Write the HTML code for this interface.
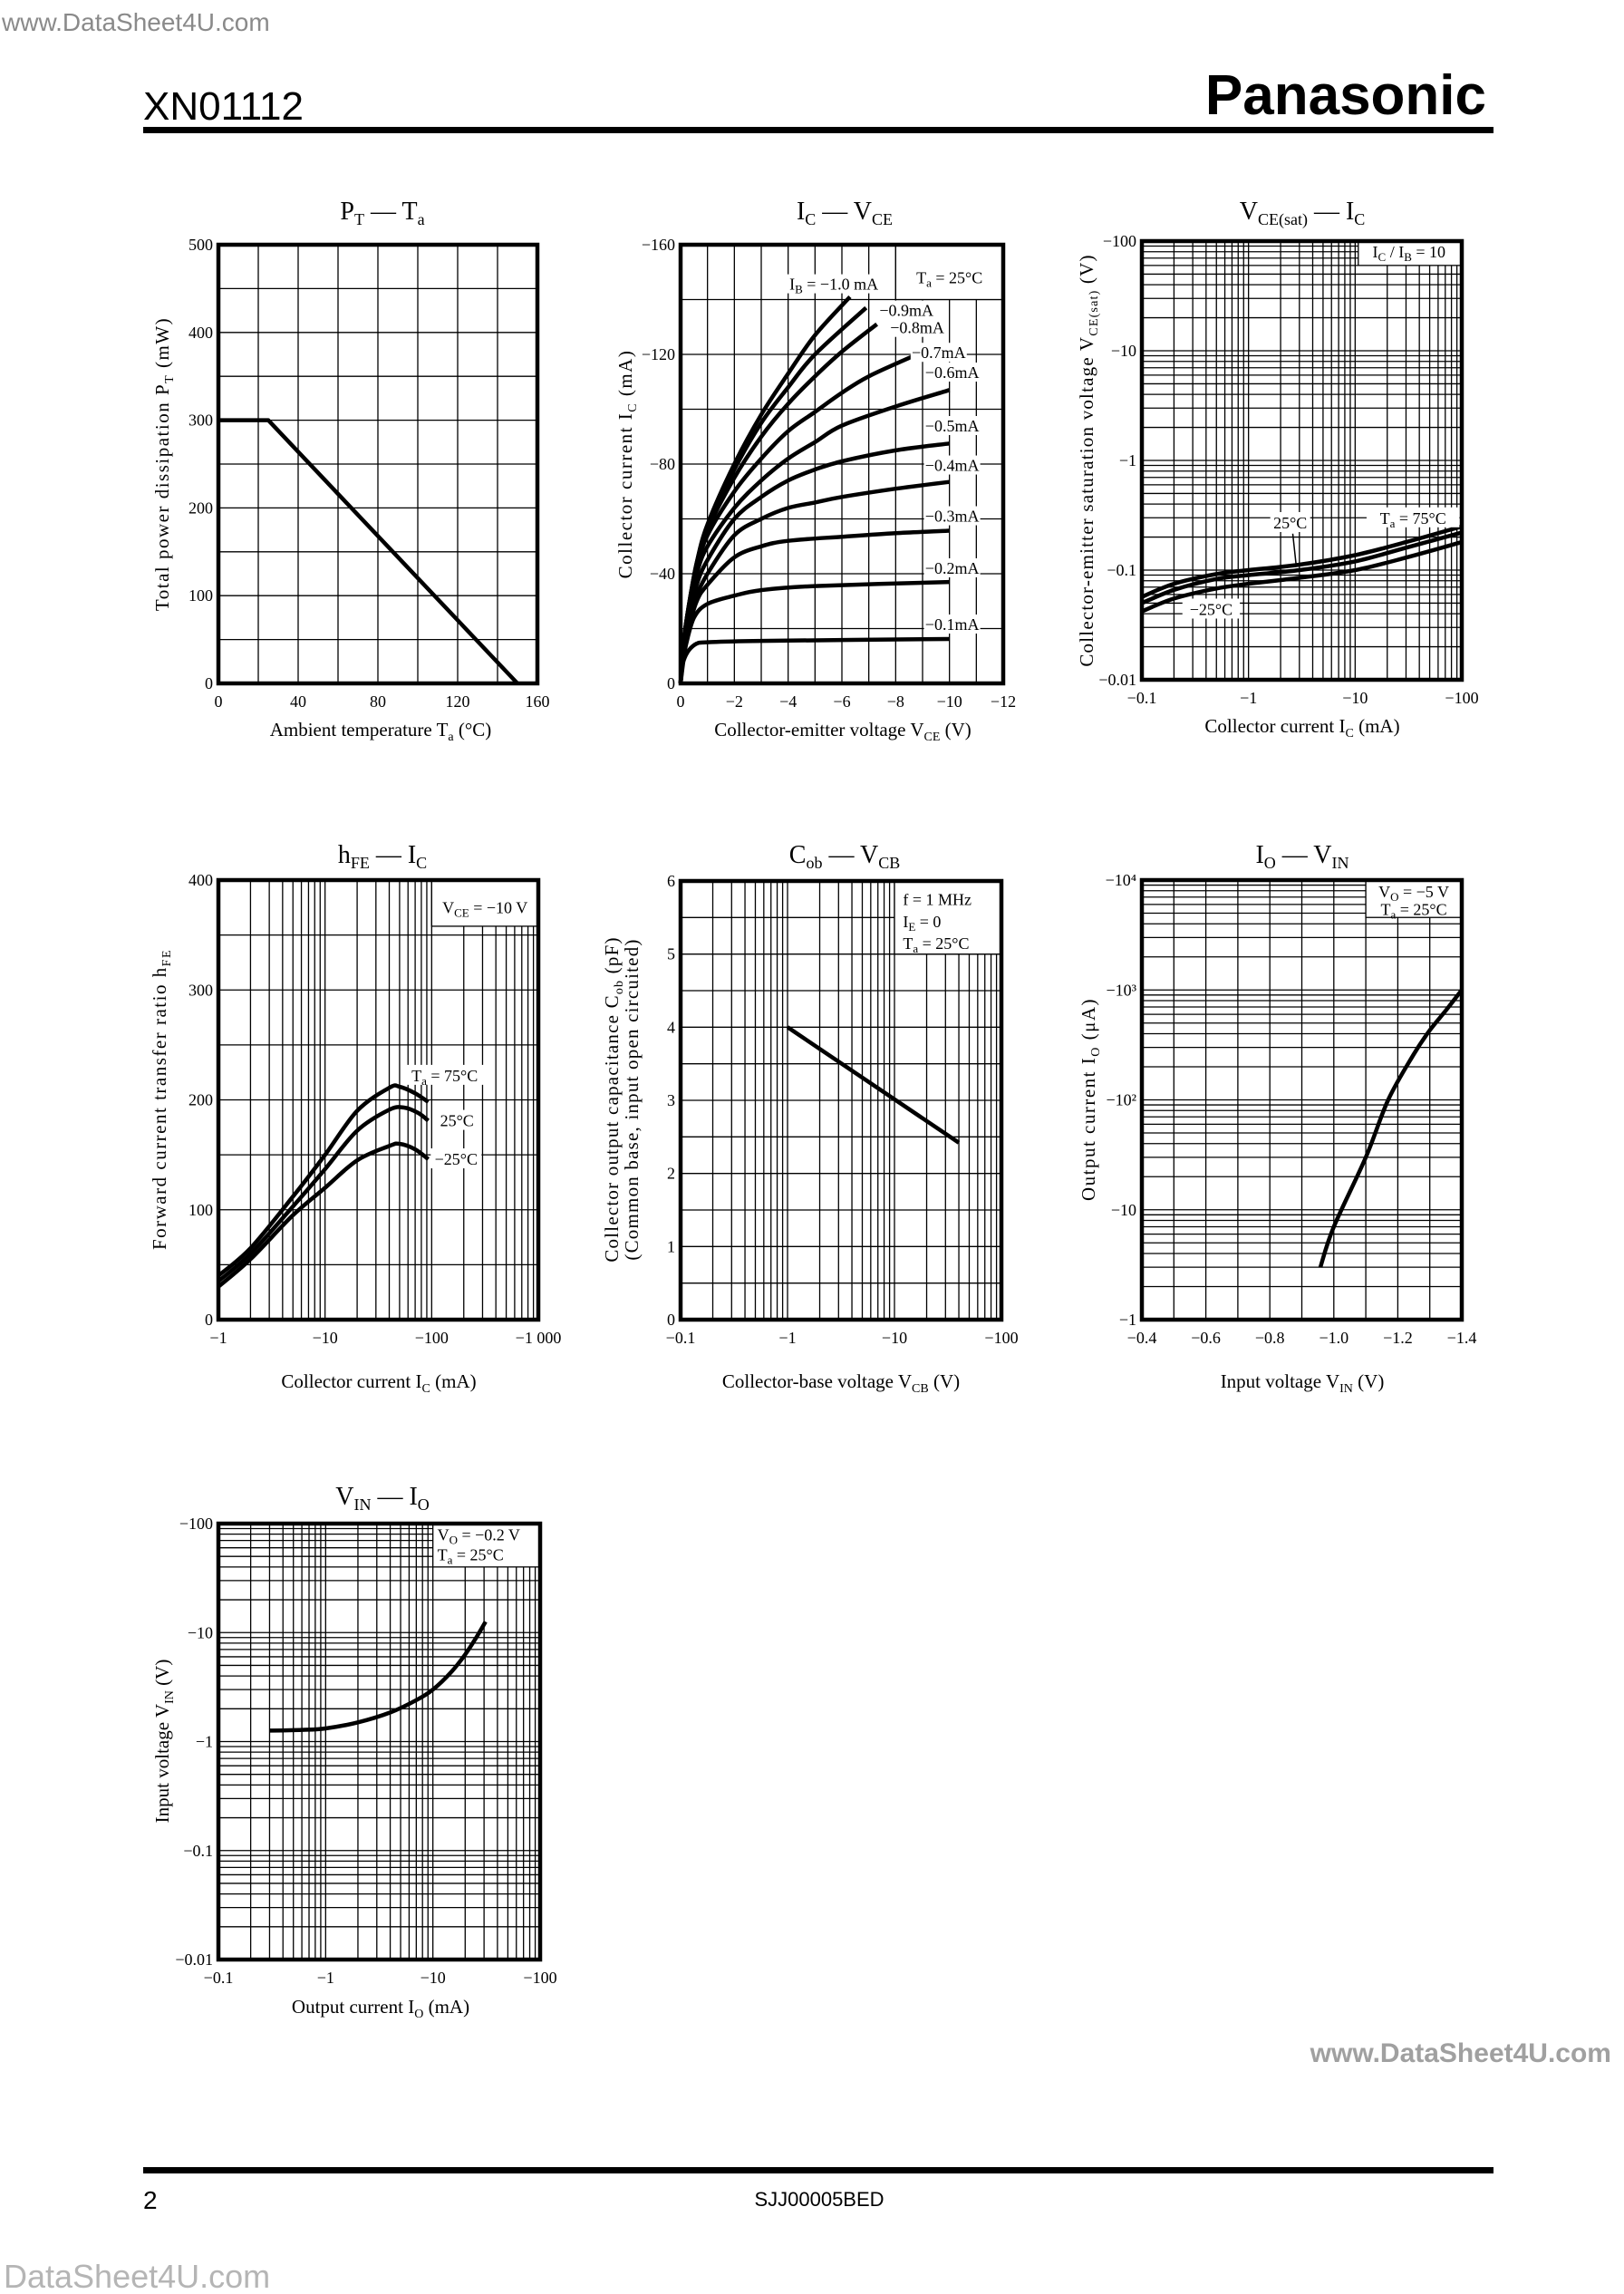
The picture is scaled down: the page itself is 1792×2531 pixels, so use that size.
<!DOCTYPE html>
<html><head><meta charset="utf-8"><title>XN01112 characteristics</title>
<style>
html,body{margin:0;padding:0;background:#fff;}
svg{display:block;}
text{font-family:"Liberation Serif","DejaVu Serif",serif;fill:#000;}
.sans{font-family:"Liberation Sans","DejaVu Sans",sans-serif;}
.tick{font-size:18px;}
.ax{font-size:21px;}
.ttl{font-size:28px;}
.lbl{font-size:18px;}
</style></head>
<body>
<svg id="page" width="1792" height="2531" viewBox="0 0 1792 2531" xmlns="http://www.w3.org/2000/svg">
<rect x="0" y="0" width="1792" height="2531" fill="#fff"/>
<text class="sans" x="2" y="34" font-size="28" style="fill:#8a8a8a">www.DataSheet4U.com</text>
<text class="sans" x="158" y="132" font-size="44">XN01112</text>
<text class="sans" x="1640" y="126" font-size="62" font-weight="bold" text-anchor="end">Panasonic</text>
<rect x="158" y="140" width="1490" height="7" fill="#000"/>

<text class="ttl" x="422" y="242" text-anchor="middle">P<tspan font-size="18" dy="6">T</tspan><tspan dy="-6"> — T</tspan><tspan font-size="18" dy="6">a</tspan></text>
<text class="ttl" x="932" y="242" text-anchor="middle">I<tspan font-size="18" dy="6">C</tspan><tspan dy="-6"> — V</tspan><tspan font-size="18" dy="6">CE</tspan></text>
<text class="ttl" x="1437" y="242" text-anchor="middle">V<tspan font-size="18" dy="6">CE(sat)</tspan><tspan dy="-6"> — I</tspan><tspan font-size="18" dy="6">C</tspan></text>
<text class="ttl" x="422" y="952" text-anchor="middle">h<tspan font-size="18" dy="6">FE</tspan><tspan dy="-6"> — I</tspan><tspan font-size="18" dy="6">C</tspan></text>
<text class="ttl" x="932" y="952" text-anchor="middle">C<tspan font-size="18" dy="6">ob</tspan><tspan dy="-6"> — V</tspan><tspan font-size="18" dy="6">CB</tspan></text>
<text class="ttl" x="1437" y="952" text-anchor="middle">I<tspan font-size="18" dy="6">O</tspan><tspan dy="-6"> — V</tspan><tspan font-size="18" dy="6">IN</tspan></text>
<text class="ttl" x="422" y="1660" text-anchor="middle">V<tspan font-size="18" dy="6">IN</tspan><tspan dy="-6"> — I</tspan><tspan font-size="18" dy="6">O</tspan></text>

<text class="ax" x="420" y="812" text-anchor="middle">Ambient temperature  T<tspan font-size="14" dy="5">a</tspan><tspan dy="-5">  (°C)</tspan></text>
<text class="ax" x="930" y="812" text-anchor="middle">Collector-emitter voltage  V<tspan font-size="14" dy="5">CE</tspan><tspan dy="-5">  (V)</tspan></text>
<text class="ax" x="1437" y="808" text-anchor="middle">Collector current  I<tspan font-size="14" dy="5">C</tspan><tspan dy="-5">  (mA)</tspan></text>
<text class="ax" x="418" y="1531" text-anchor="middle">Collector current  I<tspan font-size="14" dy="5">C</tspan><tspan dy="-5">  (mA)</tspan></text>
<text class="ax" x="928" y="1531" text-anchor="middle">Collector-base voltage  V<tspan font-size="14" dy="5">CB</tspan><tspan dy="-5">  (V)</tspan></text>
<text class="ax" x="1437" y="1531" text-anchor="middle">Input voltage  V<tspan font-size="14" dy="5">IN</tspan><tspan dy="-5">  (V)</tspan></text>
<text class="ax" x="420" y="2221" text-anchor="middle">Output current  I<tspan font-size="14" dy="5">O</tspan><tspan dy="-5">  (mA)</tspan></text>

<text class="ax" transform="translate(186,512) rotate(-90)" text-anchor="middle" letter-spacing="1.5">Total power dissipation  P<tspan font-size="14" dy="5">T</tspan><tspan dy="-5">  (mW)</tspan></text>
<text class="ax" transform="translate(697,512) rotate(-90)" text-anchor="middle" letter-spacing="1.5">Collector current  I<tspan font-size="14" dy="5">C</tspan><tspan dy="-5">  (mA)</tspan></text>
<text class="ax" transform="translate(1206,508) rotate(-90)" text-anchor="middle" letter-spacing="1.2">Collector-emitter saturation voltage  V<tspan font-size="14" dy="5">CE(sat)</tspan><tspan dy="-5">  (V)</tspan></text>
<text class="ax" transform="translate(183,1213) rotate(-90)" text-anchor="middle" letter-spacing="1.5">Forward current transfer ratio  h<tspan font-size="14" dy="5">FE</tspan></text>
<text class="ax" transform="translate(682,1213) rotate(-90)" text-anchor="middle" letter-spacing="1.2">Collector output capacitance     C<tspan font-size="14" dy="5">ob</tspan><tspan dy="-5">  (pF)</tspan></text>
<text class="ax" transform="translate(704,1213) rotate(-90)" text-anchor="middle" letter-spacing="1.2">(Common base, input open circuited)</text>
<text class="ax" transform="translate(1208,1213) rotate(-90)" text-anchor="middle" letter-spacing="1.5">Output current  I<tspan font-size="14" dy="5">O</tspan><tspan dy="-5">  (μA)</tspan></text>
<text class="ax" transform="translate(186,1921) rotate(-90)" text-anchor="middle">Input voltage  V<tspan font-size="14" dy="5">IN</tspan><tspan dy="-5">  (V)</tspan></text>

<g id="charts"></g>

<text class="sans" x="1778" y="2275" font-size="30" font-weight="bold" text-anchor="end" style="fill:#a0a0a0">www.DataSheet4U.com</text>
<rect x="158" y="2391" width="1490" height="7" fill="#000"/>
<text class="sans" x="158" y="2437" font-size="28">2</text>
<text class="sans" x="904" y="2434" font-size="22" text-anchor="middle">SJJ00005BED</text>
<text class="sans" x="4" y="2524" font-size="36" style="fill:#b5b5b5">DataSheet4U.com</text>
</svg>

<script>
// ---------- data ----------
const ptTa = [0, 25, 150];
const ptPower = [300, 300, 0];
const ptXTicks = [0, 40, 80, 120, 160];
const ptYTicks = [0, 100, 200, 300, 400, 500];

const ibNames = ['1.0', '0.9', '0.8', '0.7', '0.6', '0.5', '0.4', '0.3', '0.2', '0.1'];
const ib10 = [[0,0],[0.1,14],[0.3,28],[0.6,44],[1,58],[2,80],[3,98],[4,113],[5,127],[6.3,141]];
const ib09 = [[0,0],[0.1,14],[0.3,28],[0.6,44],[1,57],[2,78],[3,95],[4,108],[5,120],[6.9,137]];
const ib08 = [[0,0],[0.1,14],[0.3,28],[0.6,43],[1,56],[2,75],[3,90],[4,102],[5,112],[6,121],[7.3,131]];
const ib07 = [[0,0],[0.1,14],[0.3,27],[0.6,42],[1,54],[2,70],[3,82],[4,92],[5,99],[6,106],[7,112],[8.8,120]];
const ib06 = [[0,0],[0.1,13],[0.3,26],[0.6,40],[1,50],[2,64],[3,74],[4,82],[5,88],[6,94],[8,101],[10,107]];
const ib05 = [[0,0],[0.1,12],[0.3,24],[0.6,36],[1,45],[2,60],[3,68],[4,74],[5,78],[6,81],[8,85],[10,87.5]];
const ib04 = [[0,0],[0.1,11],[0.3,22],[0.5,30],[1,40],[2,54],[3,60],[4,64],[5,66],[6,68],[8,71],[10,73.5]];
const ib03 = [[0,0],[0.1,10],[0.3,20],[0.6,30],[1,36],[2,46],[3,50],[4,52],[6,53.5],[8,54.8],[10,55.7]];
const ib02 = [[0,0],[0.1,8],[0.2,14],[0.5,24],[1,29],[2,32],[3,34],[5,35.5],[10,37]];
const ib01 = [[0,0],[0.05,5],[0.1,8],[0.3,12],[0.6,14.5],[1,15],[3,15.5],[10,16.2]];
const icXTicks = [0, 2, 4, 6, 8, 10, 12];
const icYTicks = [0, 40, 80, 120, 160];

const satIc = [0.1, 0.2, 0.5, 1, 3, 10, 30, 100];
const sat75 = [0.057, 0.075, 0.092, 0.1, 0.112, 0.137, 0.18, 0.25];
const sat25 = [0.05, 0.066, 0.083, 0.09, 0.1, 0.12, 0.16, 0.22];
const satM25 = [0.042, 0.055, 0.068, 0.075, 0.085, 0.1, 0.13, 0.18];
const satXTicks = [0.1, 1, 10, 100];
const satXLabels = ['−0.1', '−1', '−10', '−100'];
const satYTicks = [0.01, 0.1, 1, 10, 100];
const satYLabels = ['−0.01', '−0.1', '−1', '−10', '−100'];

const hfeIc75 = [1, 2, 5, 10, 20, 40, 50, 70, 93];
const hfe75 = [40, 65, 112, 150, 190, 211, 212, 206, 198];
const hfeIc25 = [1, 2, 5, 10, 20, 40, 55, 75, 93];
const hfe25 = [35, 60, 103, 137, 172, 191, 193, 188, 181];
const hfeIcM25 = [1, 2, 5, 10, 20, 40, 50, 70, 93];
const hfeM25 = [30, 55, 95, 120, 145, 158, 160, 155, 146];
const hfeXTicks = [1, 10, 100, 1000];
const hfeXLabels = ['−1', '−10', '−100', '−1 000'];
const hfeYTicks = [0, 100, 200, 300, 400];

const cobV = [1, 40];
const cobC = [4.0, 2.42];
const cobXTicks = [0.1, 1, 10, 100];
const cobXLabels = ['−0.1', '−1', '−10', '−100'];
const cobYTicks = [0, 1, 2, 3, 4, 5, 6];

const ioVin = [0.958, 1.0, 1.1, 1.17, 1.25, 1.3, 1.35, 1.4];
const ioIo = [3, 7, 30, 100, 260, 430, 650, 1000];
const ioXTicks = [0.4, 0.6, 0.8, 1.0, 1.2, 1.4];
const ioXLabels = ['−0.4', '−0.6', '−0.8', '−1.0', '−1.2', '−1.4'];
const ioYTicks = [1, 10, 100, 1000, 10000];
const ioYLabels = ['−1', '−10', '−10²', '−10³', '−10⁴'];

const vinIo = [0.3, 0.6, 1, 2, 4, 7, 10, 15, 20, 25, 31];
const vinVin = [1.26, 1.28, 1.32, 1.5, 1.85, 2.4, 3.0, 4.4, 6.3, 8.8, 12.6];
const vinXTicks = [0.1, 1, 10, 100];
const vinXLabels = ['−0.1', '−1', '−10', '−100'];
const vinYTicks = [0.01, 0.1, 1, 10, 100];
const vinYLabels = ['−0.01', '−0.1', '−1', '−10', '−100'];

// ---------- drawing ----------
const NS = 'http://www.w3.org/2000/svg';
const root = document.getElementById('charts');
function lin(a, b, p0, p1) { return v => p0 + (v - a) / (b - a) * (p1 - p0); }
function lg(a, b, p0, p1) { const la = Math.log10(a), lb = Math.log10(b); return v => p0 + (Math.log10(v) - la) / (lb - la) * (p1 - p0); }
function logGrid(a, b) { const out = []; for (let d = Math.round(Math.log10(a)); d < Math.round(Math.log10(b)); d++) { for (let k = 1; k < 10; k++) out.push(k * Math.pow(10, d)); } out.push(b); return out; }
function stepGrid(a, b, s) { const out = []; const n = Math.round((b - a) / s); for (let i = 0; i <= n; i++) out.push(a + i * s); return out; }
function el(tag, parent) { const e = document.createElementNS(NS, tag); parent.appendChild(e); return e; }

function line(g, x1, y1, x2, y2, w, name) {
  const e = el('line', g);
  e.setAttribute('x1', x1); e.setAttribute('y1', y1); e.setAttribute('x2', x2); e.setAttribute('y2', y2);
  e.setAttribute('stroke', '#000'); e.setAttribute('stroke-width', w);
  
  
  return e;
}
// text with '_' toggling subscript segments
function txt(g, x, y, s, anchor, cls, name) {
  const e = el('text', g);
  e.setAttribute('x', x); e.setAttribute('y', y); e.setAttribute('text-anchor', anchor); e.setAttribute('class', cls);
  const parts = s.split('_');
  parts.forEach((p, i) => {
    if (!p) return;
    const t = el('tspan', e);
    if (i % 2 === 1) { t.setAttribute('font-size', '13'); t.setAttribute('dy', '4'); }
    else if (i > 0) { t.setAttribute('dy', '-4'); }
    t.textContent = p;
  });
  
  
  return e;
}
function whiteBox(g, x, y, w, h, stroke, name) {
  const e = el('rect', g);
  e.setAttribute('x', x); e.setAttribute('y', y); e.setAttribute('width', w); e.setAttribute('height', h);
  e.setAttribute('fill', '#fff');
  if (stroke) { e.setAttribute('stroke', '#000'); e.setAttribute('stroke-width', 1.3); }
  
  
  return e;
}
function smoothPath(pts) {
  let d = 'M' + pts[0][0].toFixed(1) + ',' + pts[0][1].toFixed(1);
  for (let i = 0; i < pts.length - 1; i++) {
    const p0 = pts[i - 1] || pts[i], p1 = pts[i], p2 = pts[i + 1], p3 = pts[i + 2] || p2;
    const c1x = p1[0] + (p2[0] - p0[0]) / 6, c1y = p1[1] + (p2[1] - p0[1]) / 6;
    const c2x = p2[0] - (p3[0] - p1[0]) / 6, c2y = p2[1] - (p3[1] - p1[1]) / 6;
    d += ' C' + c1x.toFixed(1) + ',' + c1y.toFixed(1) + ' ' + c2x.toFixed(1) + ',' + c2y.toFixed(1) + ' ' + p2[0].toFixed(1) + ',' + p2[1].toFixed(1);
  }
  return d;
}
function curve(g, pts, w, name, smooth) {
  const e = el('path', g);
  e.setAttribute('d', smooth ? smoothPath(pts) : 'M' + pts.map(p => p[0].toFixed(1) + ',' + p[1].toFixed(1)).join(' L'));
  e.setAttribute('fill', 'none'); e.setAttribute('stroke', '#000'); e.setAttribute('stroke-width', w);
  e.setAttribute('stroke-linejoin', 'round');
  
  
  return e;
}
function frame(g, b, name) {
  const e = el('rect', g);
  e.setAttribute('x', b.x0); e.setAttribute('y', b.y0); e.setAttribute('width', b.x1 - b.x0); e.setAttribute('height', b.y1 - b.y0);
  e.setAttribute('fill', 'none'); e.setAttribute('stroke', '#000'); e.setAttribute('stroke-width', 4.5);
  
  
}
function setup(key, b, xs, ys, xg, yg, xt, xl, yt, yl) {
  const g = el('g', root);
  
  
  xg.forEach(v => line(g, xs(v), b.y0, xs(v), b.y1, 1.3, key + '-x-gridline'));
  yg.forEach(v => line(g, b.x0, ys(v), b.x1, ys(v), 1.3, key + '-y-gridline'));
  xt.forEach((v, i) => txt(g, xs(v), b.y1 + 26, xl[i], 'middle', 'tick', key + '-x-tick-label'));
  yt.forEach((v, i) => txt(g, b.x0 - 6, ys(v) + 6, yl[i], 'end', 'tick', key + '-y-tick-label'));
  return g;
}
function neg(a) { return a.map(v => v === 0 ? '0' : '−' + v); }

// ---- Chart 1: PT - Ta
(function () {
  const b = {x0: 241, x1: 593, y0: 270, y1: 754};
  const xs = lin(0, 160, b.x0, b.x1), ys = lin(0, 500, b.y1, b.y0);
  const g = setup('pt', b, xs, ys, stepGrid(0, 160, 20), stepGrid(0, 500, 50), ptXTicks, ptXTicks.map(String), ptYTicks, ptYTicks.map(String));
  curve(g, ptTa.map((t, i) => [xs(t), ys(ptPower[i])]), 4.5, 'pt-derating-line', false);
  frame(g, b, 'pt-plot-frame');
})();

// ---- Chart 2: IC - VCE
(function () {
  const b = {x0: 751, x1: 1107, y0: 270, y1: 754};
  const xs = lin(0, 12, b.x0, b.x1), ys = lin(0, 160, b.y1, b.y0);
  const g = setup('ic', b, xs, ys, stepGrid(0, 12, 1), stepGrid(0, 160, 20), icXTicks, neg(icXTicks), icYTicks, neg(icYTicks));
  whiteBox(g, xs(8), b.y0, b.x1 - xs(8), ys(140) - b.y0, true, 'ic-condition-box');
  txt(g, xs(10), ys(148) + 6, 'T_a_ = 25°C', 'middle', 'lbl', 'ic-condition-label');
  const series = [ib10, ib09, ib08, ib07, ib06, ib05, ib04, ib03, ib02, ib01];
  series.forEach((s, i) => curve(g, s.map(p => [xs(p[0]), ys(p[1])]), 4.5, 'ic-curve-ib-' + ibNames[i], true));
  const lblY = [143.6, 134, 127.7, 118.6, 111.4, 91.9, 77.5, 59, 40, 19.5];
  const lblX = [5.7, 8.4, 8.8, 9.6, 10.1, 10.1, 10.1, 10.1, 10.1, 10.1];
  lblY.forEach((y, i) => {
    const s = i === 0 ? 'I_B_ = −1.0 mA' : '−' + ibNames[i] + 'mA';
    const w = i === 0 ? 104 : 62;
    whiteBox(g, xs(lblX[i]) - w / 2, ys(y) - 17, w, 21, false, 'ic-curve-label-bg');
    txt(g, xs(lblX[i]), ys(y), s, 'middle', 'lbl', 'ic-curve-label');
  });
  frame(g, b, 'ic-plot-frame');
})();

// ---- Chart 3: VCE(sat) - IC
(function () {
  const b = {x0: 1260, x1: 1613, y0: 266, y1: 750};
  const xs = lg(0.1, 100, b.x0, b.x1), ys = lg(0.01, 100, b.y1, b.y0);
  const g = setup('vcesat', b, xs, ys, logGrid(0.1, 100), logGrid(0.01, 100), satXTicks, satXLabels, satYTicks, satYLabels);
  whiteBox(g, xs(10.7), b.y0, b.x1 - xs(10.7), ys(60) - b.y0, true, 'vcesat-condition-box');
  txt(g, xs(32), ys(60) - 9, 'I_C_ / I_B_ = 10', 'middle', 'lbl', 'vcesat-condition-label');
  [[sat75, '75'], [sat25, '25'], [satM25, 'minus25']].forEach(s => curve(g, satIc.map((v, i) => [xs(v), ys(s[0][i])]), 4.5, 'vcesat-curve-' + s[1], true));
  whiteBox(g, xs(1.6), ys(0.24) - 18, 44, 22, false, 'vcesat-label-bg');
  txt(g, xs(1.6) + 22, ys(0.24), '25°C', 'middle', 'lbl', 'vcesat-label-25');
  line(g, xs(2.6), ys(0.215), xs(2.8), ys(0.11), 1.5, 'vcesat-label-leader');
  whiteBox(g, xs(12.8), ys(0.265) - 18, xs(95) - xs(12.8), 22, false, 'vcesat-label-bg');
  txt(g, (xs(12.8) + xs(95)) / 2, ys(0.265), 'T_a_ = 75°C', 'middle', 'lbl', 'vcesat-label-75');
  whiteBox(g, xs(0.24), ys(0.039) - 18, xs(0.83) - xs(0.24), 22, false, 'vcesat-label-bg');
  txt(g, (xs(0.24) + xs(0.83)) / 2, ys(0.039), '−25°C', 'middle', 'lbl', 'vcesat-label-minus25');
  frame(g, b, 'vcesat-plot-frame');
})();

// ---- Chart 4: hFE - IC
(function () {
  const b = {x0: 241, x1: 594, y0: 971, y1: 1456};
  const xs = lg(1, 1000, b.x0, b.x1), ys = lin(0, 400, b.y1, b.y0);
  const g = setup('hfe', b, xs, ys, logGrid(1, 1000), stepGrid(0, 400, 50), hfeXTicks, hfeXLabels, hfeYTicks, hfeYTicks.map(String));
  whiteBox(g, xs(100), b.y0, b.x1 - xs(100), ys(358) - b.y0, true, 'hfe-condition-box');
  txt(g, (xs(100) + b.x1) / 2, ys(375) + 6, 'V_CE_ = −10 V', 'middle', 'lbl', 'hfe-condition-label');
  curve(g, hfeIc75.map((v, i) => [xs(v), ys(hfe75[i])]), 4.5, 'hfe-curve-75', true);
  curve(g, hfeIc25.map((v, i) => [xs(v), ys(hfe25[i])]), 4.5, 'hfe-curve-25', true);
  curve(g, hfeIcM25.map((v, i) => [xs(v), ys(hfeM25[i])]), 4.5, 'hfe-curve-minus25', true);
  const lbls = [['T_a_ = 75°C', 56, 217, 88], ['25°C', 110, 176, 46], ['−25°C', 98, 141, 56]];
  lbls.forEach(l => {
    whiteBox(g, xs(l[1]), ys(l[2]) - 18, l[3], 22, false, 'hfe-label-bg');
    txt(g, xs(l[1]) + l[3] / 2, ys(l[2]), l[0], 'middle', 'lbl', 'hfe-curve-label');
  });
  frame(g, b, 'hfe-plot-frame');
})();

// ---- Chart 5: Cob - VCB
(function () {
  const b = {x0: 751, x1: 1105, y0: 972, y1: 1456};
  const xs = lg(0.1, 100, b.x0, b.x1), ys = lin(0, 6, b.y1, b.y0);
  const g = setup('cob', b, xs, ys, logGrid(0.1, 100), stepGrid(0, 6, 0.5), cobXTicks, cobXLabels, cobYTicks, cobYTicks.map(String));
  whiteBox(g, xs(10), b.y0, b.x1 - xs(10), ys(5) - b.y0, true, 'cob-condition-box');
  txt(g, xs(12), ys(5.67), 'f = 1 MHz', 'start', 'lbl', 'cob-condition-freq');
  txt(g, xs(12), ys(5.37), 'I_E_ = 0', 'start', 'lbl', 'cob-condition-ie');
  txt(g, xs(12), ys(5.07), 'T_a_ = 25°C', 'start', 'lbl', 'cob-condition-ta');
  curve(g, cobV.map((v, i) => [xs(v), ys(cobC[i])]), 4.5, 'cob-line', false);
  frame(g, b, 'cob-plot-frame');
})();

// ---- Chart 6: IO - VIN
(function () {
  const b = {x0: 1260, x1: 1613, y0: 971, y1: 1456};
  const xs = lin(0.4, 1.4, b.x0, b.x1), ys = lg(1, 10000, b.y1, b.y0);
  const g = setup('io', b, xs, ys, stepGrid(0.4, 1.4, 0.1), logGrid(1, 10000), ioXTicks, ioXLabels, ioYTicks, ioYLabels);
  whiteBox(g, xs(1.1), b.y0, b.x1 - xs(1.1), ys(4570) - b.y0, true, 'io-condition-box');
  txt(g, (xs(1.1) + b.x1) / 2, ys(7000), 'V_O_ = −5 V', 'middle', 'lbl', 'io-condition-vo');
  txt(g, (xs(1.1) + b.x1) / 2, ys(5000) + 2, 'T_a_ = 25°C', 'middle', 'lbl', 'io-condition-ta');
  curve(g, ioVin.map((v, i) => [xs(v), ys(ioIo[i])]), 4.5, 'io-curve', true);
  frame(g, b, 'io-plot-frame');
})();

// ---- Chart 7: VIN - IO
(function () {
  const b = {x0: 241, x1: 596, y0: 1681, y1: 2162};
  const xs = lg(0.1, 100, b.x0, b.x1), ys = lg(0.01, 100, b.y1, b.y0);
  const g = setup('vin', b, xs, ys, logGrid(0.1, 100), logGrid(0.01, 100), vinXTicks, vinXLabels, vinYTicks, vinYLabels);
  whiteBox(g, xs(10), b.y0, b.x1 - xs(10), ys(40) - b.y0, true, 'vin-condition-box');
  txt(g, xs(11), ys(70), 'V_O_ = −0.2 V', 'start', 'lbl', 'vin-condition-vo');
  txt(g, xs(11), ys(46), 'T_a_ = 25°C', 'start', 'lbl', 'vin-condition-ta');
  curve(g, vinIo.map((v, i) => [xs(v), ys(vinVin[i])]), 4.5, 'vin-curve', true);
  frame(g, b, 'vin-plot-frame');
})();
</script>
</body></html>
